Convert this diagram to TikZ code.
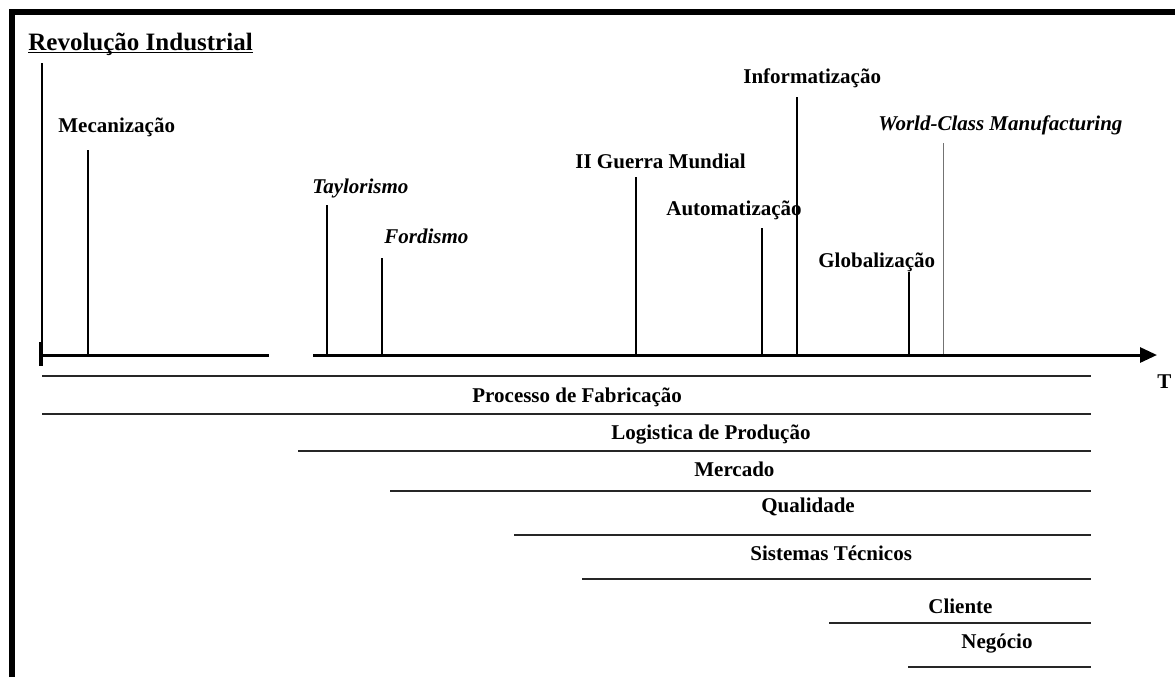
\documentclass[tikz,border=0pt]{standalone}
\usepackage{fontspec}
\setmainfont{Liberation Serif}
\usetikzlibrary{arrows.meta}

\begin{document}
\begin{tikzpicture}[x=0.5pt,y=-0.5pt,
  every node/.style={font=\bfseries\fontsize{10.5}{12}\selectfont,inner sep=0pt,anchor=base west},
  tick/.style={line width=1pt},
  band/.style={line width=1pt,black!85}]
  \useasboundingbox (0,0) rectangle (1175,677);
  \draw[line width=3pt] (11.5,677) -- (11.5,12) -- (1175,12);
  \newcommand{\milestone}[7]{%
    \node (#1) at (#2,#3) {#6};
    \coordinate (#1-top) at (#4,#5);
    \coordinate (#1-bot) at (#4,354);
    \draw[tick,#7] (#1-top) -- (#1-bot);}
  % time axis
  \coordinate (t0) at (42,355);
  \coordinate (t1) at (269,355);
  \coordinate (t2) at (313,355);
  \coordinate (t3) at (1157,355);
  \draw[line width=1.5pt] (t0) -- (t1);
  \draw[line width=1.5pt,-{Triangle[length=8.5pt,width=7.5pt]}] (t2) -- (t3);
  \draw[line width=1.6pt] (41,342) -- (41,366);
  \node (T) at (1157,388) {T};
  \node[font=\bfseries\fontsize{12.5}{14}\selectfont] (rev) at (28,50) {Revolução Industrial};
  \draw[line width=0.8pt] ([yshift=-1.2pt]rev.base west) -- ([yshift=-1.2pt]rev.base east);
  \coordinate (rev-top) at (42,63);
  \draw[tick] (rev-top) -- (t0);
  \milestone{mec}{58}{132}{88}{150}{Mecanização}{}
  \milestone{tay}{312}{193}{327}{205}{\itshape Taylorismo}{}
  \milestone{ford}{384}{243}{382}{258}{\itshape Fordismo}{}
  \milestone{guerra}{575}{168}{636}{177}{II Guerra Mundial}{}
  \milestone{auto}{666}{215}{762}{228}{Automatização}{}
  \milestone{info}{743}{83}{797}{97}{Informatização}{}
  \milestone{wcm}{878}{130}{943}{143}{\itshape World-Class Manufacturing}{line width=0.5pt,black!55}
  \milestone{glob}{818}{267}{909}{272}{Globalização}{}
  % areas of focus
  \coordinate (top-a) at (42,376);
  \coordinate (top-b) at (1091,376);
  \draw[band] (top-a) -- (top-b);
  \foreach \n/\xs/\yl/\xt/\yt/\txt in {
      proc/42/414/472/402/Processo de Fabricação,
      log/298/451/611/439/Logistica de Produção,
      merc/390/491/694/476/Mercado,
      qual/514/535/761/512/Qualidade,
      sist/582/579/750/560/Sistemas Técnicos,
      cli/829/623/928/613/Cliente,
      neg/908/667/961/648/Negócio}{
    \node (\n) at (\xt,\yt) {\txt};
    \coordinate (\n-a) at (\xs,\yl);
    \coordinate (\n-b) at (1091,\yl);
    \draw[band] (\n-a) -- (\n-b);
  }
\end{tikzpicture}
\end{document}
